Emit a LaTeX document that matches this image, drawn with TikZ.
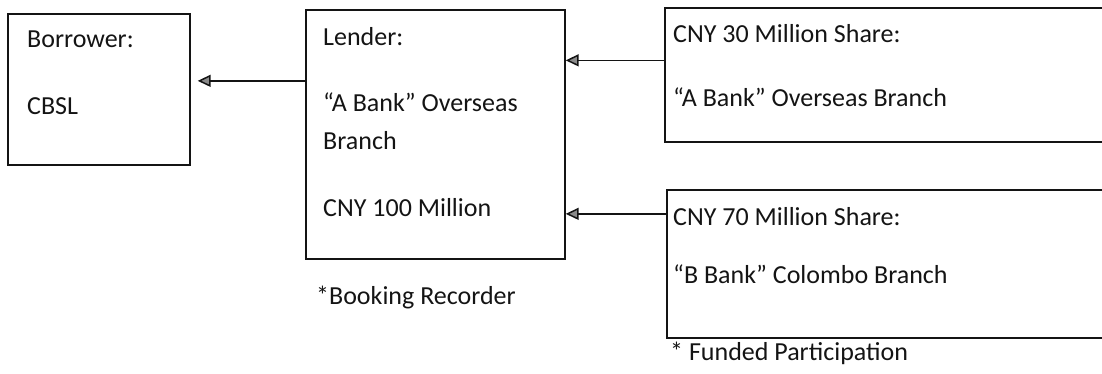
\documentclass[tikz,border=0pt]{standalone}
\usepackage{fontspec}
\setmainfont{Carlito}
\usetikzlibrary{arrows.meta,calc}
\definecolor{Ink}{HTML}{141414}
\definecolor{Muted}{HTML}{8A8A8A}
\tikzset{flow/.style={-{Triangle[length=13pt,width=12pt,fill=Muted]},draw=Ink,line width=1.5pt},box/.style={draw=Ink,line width=1.7pt,anchor=north west,inner sep=0pt},txt/.style={anchor=base west,inner sep=0pt,text=Ink,font=\fontsize{26}{38}\selectfont,align=left}}

\begin{document}
\begin{tikzpicture}[x=1pt,y=-1pt]
\useasboundingbox (0,0) rectangle (1102,374);
\node[box,minimum width=182pt,minimum height=151pt] (borrower) at (7,13) {};
\node[box,minimum width=259pt,minimum height=249pt] (lender) at (305,9) {};
\node[box,minimum width=460pt,minimum height=134pt] (share30) at (664,7) {};
\node[box,minimum width=460pt,minimum height=148pt] (share70) at (666,189) {};
\node[txt] (borrowerhead) at (27,48) {Borrower:};
\node[txt] (cbsl) at (27,115) {CBSL};
\node[txt] (lenderhead) at (323,46) {Lender:};
\node[txt,anchor=north west] (abank) at (323,93) {``A Bank'' Overseas\\Branch};
\node[txt] (cny100) at (323,216) {CNY 100 Million};
\node[txt] (share30head) at (673,43) {CNY 30 Million Share:};
\node[txt] (abankob) at (673,107) {``A Bank'' Overseas Branch};
\node[txt] (share70head) at (673,225) {CNY 70 Million Share:};
\node[txt] (bbank) at (673,283) {``B Bank'' Colombo Branch};
\node[txt] (booking) at (316,304) {*Booking Recorder};
\node[txt] (funded) at (670,360) {* Funded Participation};
% arrows
\coordinate (l1) at ([yshift=53.5pt]lender.west);
\draw[flow] (l1) -- ($(borrower.east |- l1)+(7,0)$);
\coordinate (s1) at ([yshift=14.5pt]share30.west);
\draw[flow] (s1) -- (lender.east |- s1);
\coordinate (s2) at ([yshift=50pt]share70.west);
\draw[flow] (s2) -- (lender.east |- s2);
\end{tikzpicture}
\end{document}
